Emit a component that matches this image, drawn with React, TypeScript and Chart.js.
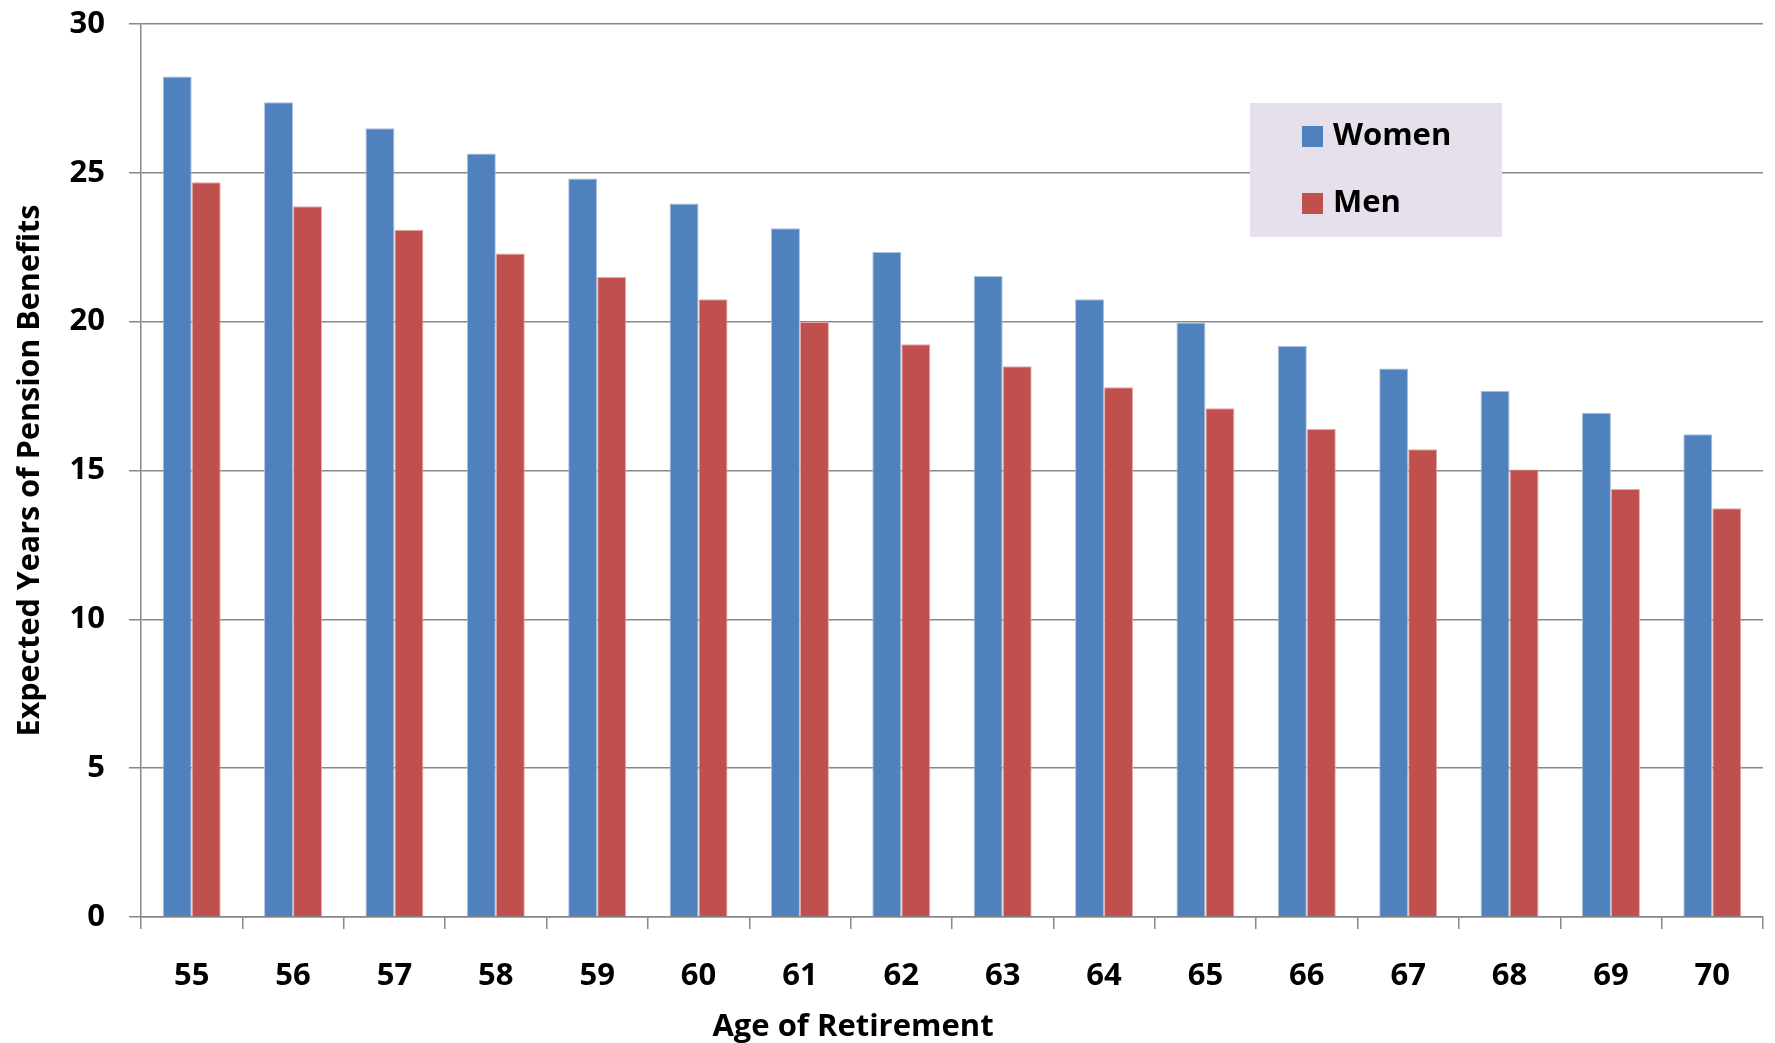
import { useEffect, useRef } from "react";
import { Chart, registerables } from "chart.js";

Chart.register(...registerables);

// Retirement ages on the category axis
const ages = ["55", "56", "57", "58", "59", "60", "61", "62", "63", "64", "65", "66", "67", "68", "69", "70"];

// Expected years of pension benefits by sex
const women = [28.24, 27.37, 26.5, 25.65, 24.81, 23.97, 23.14, 22.34, 21.53, 20.75, 19.97, 19.18, 18.43, 17.68, 16.94, 16.22];
const men = [24.68, 23.88, 23.09, 22.29, 21.5, 20.75, 19.99, 19.24, 18.5, 17.8, 17.09, 16.39, 15.71, 15.03, 14.38, 13.73];

// Value axis range and spacing
const yMin = 0;
const yMax = 30;
const yStep = 5;

const X_TITLE = "Age of Retirement";
const Y_TITLE = "Expected Years of Pension Benefits";

const FONT = "'Open Sans', sans-serif";
const GRID = "#878787";

// Boxed legend in the upper right of the plot, plus the category axis title
const decorations = {
  id: "decorations",
  afterDraw(chart: any) {
    const { ctx } = chart;
    ctx.save();
    ctx.fillStyle = "#E5E0EC";
    ctx.fillRect(1250, 103, 252, 134);
    const rows = [136.5, 203.5];
    chart.data.datasets.forEach((ds: any, i: number) => {
      ctx.fillStyle = ds.backgroundColor;
      ctx.fillRect(1302, rows[i] - 10.5, 21, 21);
      ctx.fillStyle = "#000";
      ctx.font = `bold 31px ${FONT}`;
      ctx.textBaseline = "middle";
      ctx.textAlign = "left";
      ctx.fillText(ds.label, 1333, rows[i]);
    });

    // category axis title sits left of the plot centre
    ctx.fillStyle = "#000";
    ctx.font = `bold 31px ${FONT}`;
    ctx.textAlign = "center";
    ctx.textBaseline = "middle";
    ctx.fillText(X_TITLE, 853, 1027);
    ctx.restore();
  },
};

export default function App() {
  const ref = useRef<HTMLCanvasElement>(null);

  useEffect(() => {
    document.body.style.margin = "0";
    const canvas = ref.current;
    if (!canvas) return;
    const chart = new Chart(canvas, {
      type: "bar",
      data: {
        labels: ages,
        datasets: [
          {
            label: "Women",
            data: women,
            backgroundColor: "#4F81BD",
            borderColor: "#A9C0DF",
            borderWidth: 1,
          },
          {
            label: "Men",
            data: men,
            backgroundColor: "#C0504D",
            borderColor: "#E2A9A8",
            borderWidth: 1,
          },
        ],
      },
      options: {
        responsive: false,
        animation: false,
        devicePixelRatio: 1,
        layout: { padding: { top: 24, right: 12, left: 0, bottom: 0 } },
        datasets: {
          bar: { categoryPercentage: 0.572, barPercentage: 1 },
        },
        plugins: {
          legend: { display: false },
          tooltip: { enabled: false },
        },
        scales: {
          x: {
            offset: true,
            grid: {
              display: true,
              drawOnChartArea: false,
              drawTicks: true,
              tickLength: 12,
              color: GRID,
              lineWidth: 1.5,
            },
            border: { display: true, color: GRID, width: 1.5 },
            ticks: {
              color: "#000",
              font: { family: FONT, size: 31, weight: "bold" },
              padding: 29,
              maxRotation: 0,
            },
            afterFit(scale: any) {
              scale.height = 126;
              scale.paddingLeft = 0;
              scale.paddingRight = 0;
            },
          },
          y: {
            min: yMin,
            max: yMax,
            grid: {
              color: GRID,
              lineWidth: 1.5,
              tickLength: 12,
            },
            border: { display: true, color: GRID, width: 1.5 },
            ticks: {
              stepSize: yStep,
              color: "#000",
              font: { family: FONT, size: 31, weight: "bold" },
              padding: 24,
            },
            title: {
              display: true,
              text: Y_TITLE,
              color: "#000",
              font: { family: FONT, size: 30.5, weight: "bold" },
              padding: { top: 12, bottom: 0 },
            },
            afterFit(scale: any) {
              scale.width = 141;
              scale.paddingTop = 0;
              scale.paddingBottom = 0;
            },
          },
        },
      },
      plugins: [decorations],
    });
    return () => chart.destroy();
  }, []);

  return (
    <div style={{ width: 1775, height: 1043, background: "#fff" }}>
      <canvas ref={ref} width={1775} height={1043} style={{ display: "block" }} />
    </div>
  );
}
